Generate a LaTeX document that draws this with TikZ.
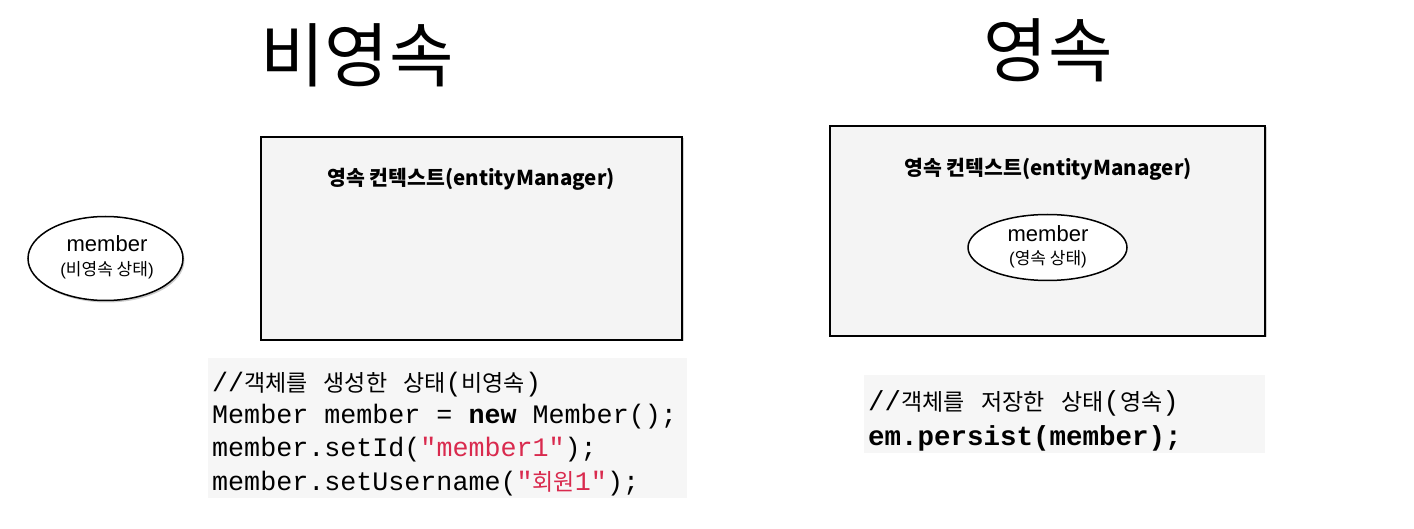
\documentclass[tikz,border=0pt]{standalone}
\usepackage{fontspec}
\setmainfont{Liberation Sans}
\setmonofont{Liberation Mono}
\newfontfamily\cjk{Noto Sans CJK KR}
\usetikzlibrary{shadows,shapes.geometric}
\definecolor{boxfill}{HTML}{F4F4F4}
\definecolor{codefill}{HTML}{F6F6F6}
\definecolor{strred}{HTML}{D92A4E}
\newcommand{\K}[1]{{\cjk\fontsize{23}{26}\selectfont #1}}
\newcommand{\Ks}[1]{{\cjk #1}}
\tikzset{
  ctxbox/.style={draw=black, line width=1.2pt, fill=boxfill, drop shadow={shadow xshift=1.5pt, shadow yshift=-1.5pt, opacity=0.35}},
  entity/.style={draw=black, line width=1.5pt, fill=white, ellipse, inner sep=0pt},
  entname/.style={inner sep=0pt, font=\fontsize{22}{24}\selectfont},
  entstate/.style={inner sep=0pt, font=\fontsize{17}{19}\selectfont},
  codebg/.style={fill=codefill, draw=none},
  codeline/.style={anchor=base west, inner sep=0pt, font=\ttfamily\fontsize{26.7}{30}\selectfont},
  codeline2/.style={anchor=base west, inner sep=0pt, font=\ttfamily\fontsize{27.5}{30}\selectfont},
  title/.style={font=\cjk\fontsize{70}{76}\selectfont, inner sep=0pt},
  ctxlabel/.style={font=\cjk\bfseries\fontsize{20.5}{24}\selectfont, inner sep=0pt},
}
\begin{document}
\begin{tikzpicture}[x=1pt,y=-1pt]
\useasboundingbox[fill=white] (0,0) rectangle (1414,529);
% titles
\node[title] (t1) at (357,55) {비영속};
\node[title] (t2) at (1048,50) {영속};
% context boxes
\node[ctxbox, minimum width=421pt, minimum height=203pt, inner sep=0pt] (b1) at (471.5,238.5) {};
\node[ctxbox, minimum width=435pt, minimum height=210pt, inner sep=0pt] (b2) at (1047.5,231) {};
\node[ctxlabel] (l1) at (471,179) {영속 컨텍스트(entityManager)};
\node[ctxlabel] (l2) at (1048,169) {영속 컨텍스트(entityManager)};
% entities
\node[entity, minimum width=155pt, minimum height=84pt, drop shadow={shadow xshift=1.5pt, shadow yshift=-2pt, opacity=0.4}] (e1) at (105.5,258.5) {};
\node[entname] (n1) at (107,244) {member};
\node[entstate] (s1) at (107,270) {(\Ks{비영속 상태})};
\node[entity, minimum width=159pt, minimum height=66pt] (e2) at (1047.5,247.5) {};
\node[entname] (n2) at (1048,234) {member};
\node[entstate] (s2) at (1048,259) {(\Ks{영속 상태})};
% code boxes
\path[codebg] (208,358) rectangle (687,498);
\path[codebg] (864,375) rectangle (1265,453);
\node[codeline] (c1) at (212,391) {//\K{객체를} \K{생성한} \K{상태}(\K{비영속})};
\node[codeline] (c2) at (212,423) {Member member = \textbf{new} Member();};
\node[codeline] (c3) at (212,456) {member.setId(\textcolor{strred}{"member1"});};
\node[codeline] (c4) at (212,490) {member.setUsername(\textcolor{strred}{"\K{회원}1"});};
\node[codeline2] (c5) at (868,410) {//\K{객체를} \K{저장한} \K{상태}(\K{영속})};
\node[codeline2] (c6) at (868,445) {\textbf{em.persist(member);}};
\end{tikzpicture}
\end{document}
